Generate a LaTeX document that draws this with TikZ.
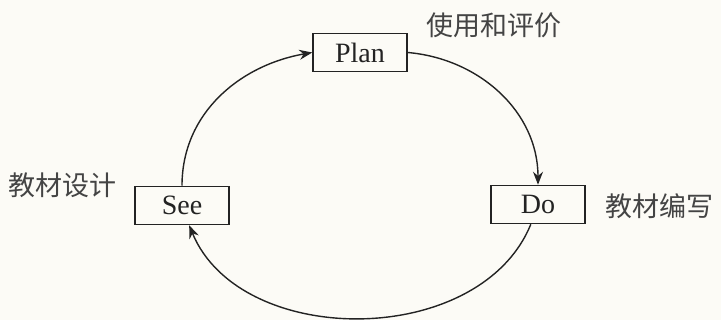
\documentclass[tikz,border=0pt]{standalone}
\usepackage{fontspec}
\newfontfamily\cjk{Noto Sans CJK SC}
\newfontfamily\boxfont{Liberation Serif}
\usetikzlibrary{arrows.meta}
\definecolor{ink}{RGB}{35,35,35}
\definecolor{paper}{RGB}{252,251,246}
\tikzset{
  box/.style={draw=ink, line width=1.5pt, minimum width=94pt, minimum height=38pt, inner sep=0pt, font=\boxfont\fontsize{28}{28}\selectfont, text=ink},
  lbl/.style={font=\cjk\fontsize{27}{27}\selectfont, text=ink!85, inner sep=0pt},
  conn/.style={draw=ink, line width=1.4pt, -{Stealth[length=13pt,width=10pt]}}
}
\begin{document}
\begin{tikzpicture}[x=1pt,y=1pt]
\fill[paper] (0,0) rectangle (721,320);
\useasboundingbox (0,0) rectangle (721,320);
\node[box] (plan) at (360,267.5) {Plan};
\node[box] (see) at (182,114.5) {See};
\node[box] (do) at (538,115.5) {Do};
\node[lbl] (l1) at (494,295) {使用和评价};
\node[lbl] (l2) at (63,135) {教材设计};
\node[lbl] (l3) at (659,114) {教材编写};
\draw[conn] (see.north) to[out=90,in=190] (plan.west);
\draw[conn] (plan.east) to[out=-5,in=90] (do.north);
\draw[conn] (do.-110) .. controls (480,-29) and (240,-29) .. (see.-70);
\end{tikzpicture}
\end{document}
